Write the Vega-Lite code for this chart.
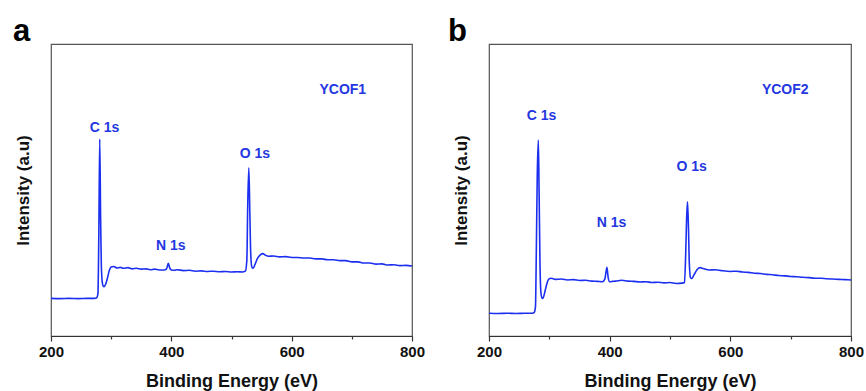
{
  "$schema": "https://vega.github.io/schema/vega-lite/v6.json",
  "background": "white",
  "padding": {"left": 12, "top": 15, "right": 5, "bottom": 0},
  "spacing": 21,
  "datasets": {
    "spec_a": [
      {"E": 200, "I": 12.9}, {"E": 215, "I": 12.8}, {"E": 230, "I": 12.9}, {"E": 245, "I": 12.8}, {"E": 260, "I": 12.9},
      {"E": 272, "I": 12.9}, {"E": 276, "I": 13.1}, {"E": 278, "I": 14.5}, {"E": 279.5, "I": 35}, {"E": 281, "I": 67.4},
      {"E": 282.5, "I": 40}, {"E": 284, "I": 22}, {"E": 286, "I": 17.5}, {"E": 288, "I": 16.9}, {"E": 291, "I": 17.8},
      {"E": 294, "I": 20}, {"E": 297, "I": 22.5}, {"E": 300, "I": 23.6}, {"E": 304, "I": 23.8}, {"E": 310, "I": 23.3},
      {"E": 315, "I": 23.5}, {"E": 320, "I": 23.2}, {"E": 328, "I": 23.4}, {"E": 335, "I": 23.0}, {"E": 342, "I": 23.2},
      {"E": 350, "I": 22.9}, {"E": 358, "I": 23.0}, {"E": 365, "I": 22.7}, {"E": 372, "I": 22.9}, {"E": 380, "I": 22.6},
      {"E": 388, "I": 22.6}, {"E": 392, "I": 23.0}, {"E": 395, "I": 24.9}, {"E": 397, "I": 23.5}, {"E": 400, "I": 22.6},
      {"E": 405, "I": 22.5}, {"E": 410, "I": 22.7}, {"E": 420, "I": 22.4}, {"E": 430, "I": 22.5}, {"E": 440, "I": 22.2},
      {"E": 450, "I": 22.3}, {"E": 460, "I": 22.1}, {"E": 470, "I": 22.2}, {"E": 480, "I": 22.0}, {"E": 490, "I": 22.1},
      {"E": 500, "I": 21.9}, {"E": 510, "I": 22.0}, {"E": 518, "I": 21.9}, {"E": 523, "I": 22.2}, {"E": 525.5, "I": 26},
      {"E": 527, "I": 45}, {"E": 528.8, "I": 57.6}, {"E": 530.5, "I": 42}, {"E": 532, "I": 28}, {"E": 534, "I": 23.5},
      {"E": 536, "I": 23.2}, {"E": 539, "I": 24.5}, {"E": 543, "I": 26.5}, {"E": 548, "I": 27.8}, {"E": 552, "I": 28.2},
      {"E": 556, "I": 27.7}, {"E": 562, "I": 27.3}, {"E": 570, "I": 27.4}, {"E": 580, "I": 27.1}, {"E": 590, "I": 27.2},
      {"E": 600, "I": 26.9}, {"E": 610, "I": 26.9}, {"E": 620, "I": 26.7}, {"E": 630, "I": 26.7}, {"E": 640, "I": 26.4},
      {"E": 650, "I": 26.4}, {"E": 660, "I": 26.1}, {"E": 670, "I": 26.1}, {"E": 680, "I": 25.8}, {"E": 690, "I": 25.8},
      {"E": 700, "I": 25.4}, {"E": 710, "I": 25.4}, {"E": 720, "I": 25.0}, {"E": 730, "I": 25.0}, {"E": 740, "I": 24.6},
      {"E": 750, "I": 24.7}, {"E": 760, "I": 24.3}, {"E": 770, "I": 24.4}, {"E": 780, "I": 24.1}, {"E": 790, "I": 24.2},
      {"E": 800, "I": 24.0}
    ],
    "spec_b": [
      {"E": 200, "I": 7.8}, {"E": 215, "I": 7.7}, {"E": 230, "I": 7.8}, {"E": 245, "I": 7.7}, {"E": 260, "I": 7.8},
      {"E": 272, "I": 7.8}, {"E": 275, "I": 8.1}, {"E": 277, "I": 10}, {"E": 278.5, "I": 30}, {"E": 280, "I": 55},
      {"E": 281.8, "I": 67.1}, {"E": 283, "I": 50}, {"E": 284.5, "I": 25}, {"E": 286, "I": 15}, {"E": 288, "I": 12.9},
      {"E": 290, "I": 13.2}, {"E": 293, "I": 15.5}, {"E": 296, "I": 18}, {"E": 299, "I": 19.5}, {"E": 303, "I": 19.8},
      {"E": 310, "I": 19.4}, {"E": 320, "I": 19.5}, {"E": 330, "I": 19.2}, {"E": 340, "I": 19.3}, {"E": 350, "I": 19.0},
      {"E": 360, "I": 19.1}, {"E": 370, "I": 18.8}, {"E": 380, "I": 18.7}, {"E": 388, "I": 18.6}, {"E": 392, "I": 19.5},
      {"E": 394, "I": 22}, {"E": 395.5, "I": 23.5}, {"E": 397.5, "I": 20}, {"E": 400, "I": 18.6}, {"E": 405, "I": 18.7},
      {"E": 410, "I": 18.8}, {"E": 420, "I": 19.1}, {"E": 430, "I": 18.8}, {"E": 440, "I": 18.7}, {"E": 450, "I": 18.5},
      {"E": 460, "I": 18.6}, {"E": 470, "I": 18.3}, {"E": 480, "I": 18.4}, {"E": 490, "I": 18.2}, {"E": 500, "I": 18.3},
      {"E": 510, "I": 18.0}, {"E": 520, "I": 18.1}, {"E": 524, "I": 18.3}, {"E": 526, "I": 28}, {"E": 527.5, "I": 40},
      {"E": 529, "I": 46.0}, {"E": 530.5, "I": 38}, {"E": 532, "I": 25}, {"E": 534, "I": 20}, {"E": 536, "I": 19.7},
      {"E": 540, "I": 21}, {"E": 545, "I": 22.8}, {"E": 550, "I": 23.4}, {"E": 555, "I": 23.1}, {"E": 565, "I": 22.6},
      {"E": 575, "I": 22.7}, {"E": 585, "I": 22.4}, {"E": 600, "I": 22.1}, {"E": 610, "I": 22.2}, {"E": 620, "I": 21.9},
      {"E": 630, "I": 21.8}, {"E": 640, "I": 21.5}, {"E": 650, "I": 21.4}, {"E": 660, "I": 21.1}, {"E": 670, "I": 21.0},
      {"E": 680, "I": 20.7}, {"E": 690, "I": 20.6}, {"E": 700, "I": 20.4}, {"E": 710, "I": 20.3}, {"E": 720, "I": 20.1},
      {"E": 730, "I": 20.0}, {"E": 740, "I": 19.8}, {"E": 750, "I": 19.8}, {"E": 760, "I": 19.6}, {"E": 770, "I": 19.5},
      {"E": 780, "I": 19.4}, {"E": 790, "I": 19.3}, {"E": 800, "I": 19.2}
    ],
    "lab_a": [
      {"label": "YCOF1", "E": 685, "I": 84.2},
      {"label": "C 1s", "E": 289, "I": 71.1},
      {"label": "N 1s", "E": 399, "I": 30.9},
      {"label": "O 1s", "E": 539, "I": 62.3}
    ],
    "lab_b": [
      {"label": "YCOF2", "E": 691, "I": 84.2},
      {"label": "C 1s", "E": 287, "I": 75.5},
      {"label": "N 1s", "E": 403, "I": 38.8},
      {"label": "O 1s", "E": 536, "I": 58.0}
    ]
  },
  "hconcat": [
    {
      "width": 361,
      "height": 292,
      "title": {"text": "a", "anchor": "start", "frame": "group", "dx": -38, "fontSize": 31, "fontWeight": "bold", "font": "Liberation Sans", "color": "#000", "baseline": "bottom", "offset": -35},
      "layer": [
        {
          "data": {"name": "spec_a"},
          "mark": {"type": "line", "color": "#1b2ff0", "strokeWidth": 1.6, "interpolate": "monotone"},
          "encoding": {
            "x": {"field": "E", "type": "quantitative", "scale": {"domain": [200, 800], "nice": false}, "title": "Binding Energy (eV)",
                  "axis": {"values": [200, 300, 400, 500, 600, 700, 800], "labelExpr": "datum.value % 200 === 0 ? datum.label : ''",
                           "tickSize": {"condition": {"test": "datum.value % 200 !== 0", "value": 3}, "value": 5}}},
            "y": {"field": "I", "type": "quantitative", "scale": {"domain": [0, 100], "nice": false}, "title": "Intensity (a.u)",
                  "axis": {"labels": false, "ticks": false, "domain": false, "grid": false}}
          }
        },
        {
          "data": {"name": "lab_a"},
          "mark": {"type": "text", "color": "#2437e0", "fontSize": 14, "fontWeight": "bold", "font": "Liberation Sans"},
          "encoding": {
            "x": {"field": "E", "type": "quantitative"},
            "y": {"field": "I", "type": "quantitative"},
            "text": {"field": "label"}
          }
        }
      ]
    },
    {
      "width": 362,
      "height": 292,
      "title": {"text": "b", "anchor": "start", "frame": "group", "dx": -41, "fontSize": 31, "fontWeight": "bold", "font": "Liberation Sans", "color": "#000", "baseline": "bottom", "offset": -35},
      "layer": [
        {
          "data": {"name": "spec_b"},
          "mark": {"type": "line", "color": "#1b2ff0", "strokeWidth": 1.6, "interpolate": "monotone"},
          "encoding": {
            "x": {"field": "E", "type": "quantitative", "scale": {"domain": [200, 800], "nice": false}, "title": "Binding Energy (eV)",
                  "axis": {"values": [200, 300, 400, 500, 600, 700, 800], "labelExpr": "datum.value % 200 === 0 ? datum.label : ''",
                           "tickSize": {"condition": {"test": "datum.value % 200 !== 0", "value": 3}, "value": 5}}},
            "y": {"field": "I", "type": "quantitative", "scale": {"domain": [0, 100], "nice": false}, "title": "Intensity (a.u)",
                  "axis": {"labels": false, "ticks": false, "domain": false, "grid": false}}
          }
        },
        {
          "data": {"name": "lab_b"},
          "mark": {"type": "text", "color": "#2437e0", "fontSize": 14, "fontWeight": "bold", "font": "Liberation Sans"},
          "encoding": {
            "x": {"field": "E", "type": "quantitative"},
            "y": {"field": "I", "type": "quantitative"},
            "text": {"field": "label"}
          }
        }
      ]
    }
  ],
  "config": {
    "font": "Liberation Sans",
    "view": {"stroke": "#555", "strokeWidth": 1.2},
    "axis": {
      "grid": false,
      "domainColor": "#333",
      "domainWidth": 1.2,
      "tickColor": "#333",
      "tickWidth": 1.2,
      "labelFont": "Liberation Sans",
      "labelFontSize": 15,
      "labelFontWeight": "bold",
      "labelColor": "#111",
      "labelPadding": 3,
      "labelFlush": false,
      "titleFont": "Liberation Sans",
      "titleFontSize": 18,
      "titleFontWeight": "bold",
      "titleColor": "#111"
    },
    "axisX": {"titlePadding": 13},
    "axisY": {"titlePadding": 19, "titleFontSize": 17}
  }
}
